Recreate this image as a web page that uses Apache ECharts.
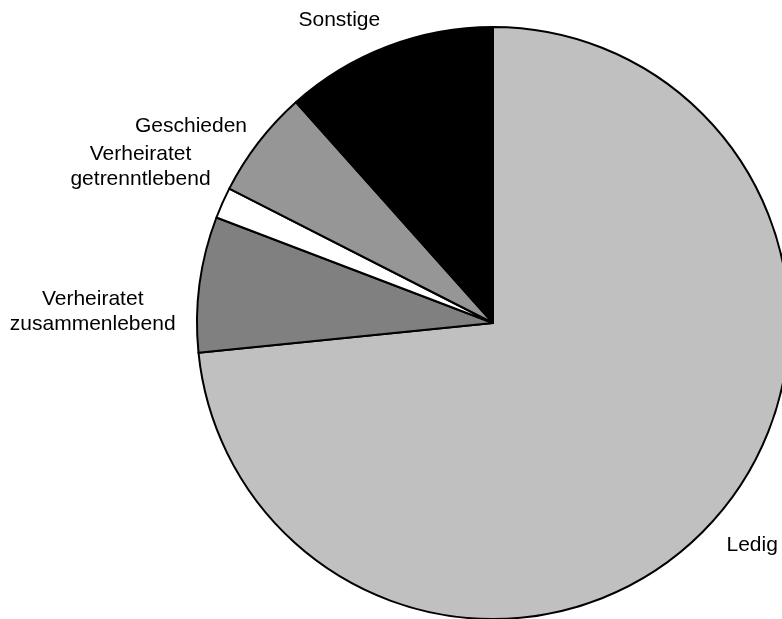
<!DOCTYPE html>
<html>
<head>
<meta charset="utf-8">
<script src="https://cdn.jsdelivr.net/npm/echarts@6/dist/echarts.min.js"></script>
<style>
html,body{margin:0;padding:0;background:#fff;}
#chart{width:782px;height:619px;}
</style>
</head>
<body>
<div id="chart"></div>
<script>
const categories = ['Ledig', 'Verheiratet\nzusammenlebend', 'Verheiratet\ngetrenntlebend', 'Geschieden', 'Sonstige'];
const values = [73.4, 7.4, 1.7, 5.9, 11.6];
const colors = ['#c0c0c0', '#808080', '#ffffff', '#969696', '#000000'];

const labelShift = [[0, 16], [-5, 29], [19, -31], [3, -9], [2, -15]];
const font = 'Liberation Sans, Arial, sans-serif';

const chart = echarts.init(document.getElementById('chart'));
chart.setOption({
  animation: false,
  series: [{
    type: 'pie',
    center: [493, 323],
    radius: 296,
    startAngle: 90,
    clockwise: true,
    avoidLabelOverlap: false,
    itemStyle: { borderColor: '#000', borderWidth: 2 },
    label: {
      show: true,
      position: 'outside',
      color: '#000',
      fontFamily: font,
      fontSize: 21,
      lineHeight: 25,
      formatter: function (p) {
        const parts = p.name.split('\n');
        if (parts.length === 1) return p.name;
        return parts.map(s => '{c|' + s + '}').join('\n');
      },
      rich: {
        c: { width: 170, align: 'center', fontSize: 21, lineHeight: 25, fontFamily: font, color: '#000' }
      }
    },
    labelLine: { show: false, length: 12, length2: 0 },
    labelLayout: function (p) {
      const s = labelShift[p.dataIndex];
      return { dx: s[0], dy: s[1] };
    },
    data: categories.map((c, i) => ({ name: c, value: values[i], itemStyle: { color: colors[i] } }))
  }]
});
</script>
</body>
</html>
